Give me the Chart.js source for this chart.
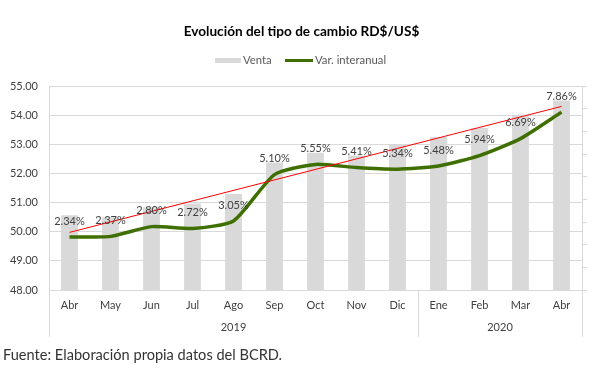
<!DOCTYPE html>
<html lang="es">
<head>
<meta charset="utf-8">
<title>Evolución del tipo de cambio RD$/US$</title>
<script src="https://cdn.jsdelivr.net/npm/chart.js@4.4.1/dist/chart.umd.min.js"></script>
<style>
	body { margin: 0; background: #fff; }
	.wrap { position: relative; width: 603px; height: 376px; }
	#fuente { position: absolute; left: 3px; top: 346px; font: 14.6px Lato, sans-serif; color: #333; white-space: nowrap; }
</style>
</head>
<body>
<div class="wrap">
	<canvas id="chart" width="603" height="376"></canvas>
	<div id="fuente">Fuente: Elaboración propia datos del BCRD.</div>
</div>
<script>
// meses del eje y agrupacion por año
const months = ['Abr', 'May', 'Jun', 'Jul', 'Ago', 'Sep', 'Oct', 'Nov', 'Dic', 'Ene', 'Feb', 'Mar', 'Abr'];
const yearLabels = ['2019', '2020'];
const yearFirst = [0, 9];
const yearLast = [8, 12];

// tasa de venta RD$/US$ (eje izquierdo)
const venta = [50.57, 50.50, 50.84, 50.97, 51.30, 52.38, 52.72, 52.62, 52.98, 53.26, 53.57, 54.02, 54.51];
// variacion interanual en % (eje derecho, 0-9)
const varInteranual = [2.34, 2.37, 2.80, 2.72, 3.05, 5.10, 5.55, 5.41, 5.34, 5.48, 5.94, 6.69, 7.86];
// linea roja de tendencia (solo extremos)
const tendencia = [49.98, null, null, null, null, null, null, null, null, null, null, null, 54.31];

const barColor = '#d9d9d9';
const lineColor = '#3f6f00';
const gridColor = '#d9d9d9';
const textColor = '#404040';

Chart.defaults.font.family = 'Lato, sans-serif';
Chart.defaults.color = textColor;

const pctLabels = {
	id: 'pctLabels',
	afterDatasetsDraw(chart) {
		const ctx = chart.ctx;
		const meta = chart.getDatasetMeta(1);
		ctx.save();
		ctx.font = '11px Lato, sans-serif';
		ctx.fillStyle = textColor;
		ctx.textAlign = 'center';
		ctx.textBaseline = 'middle';
		meta.data.forEach((pt, i) => {
			ctx.fillText(varInteranual[i].toFixed(2) + '%', pt.x, pt.y - 16);
		});
		ctx.restore();
	}
};

const yearAxis = {
	id: 'yearAxis',
	afterDraw(chart) {
		const ctx = chart.ctx;
		const x = chart.scales.x;
		const top = chart.chartArea.bottom;
		ctx.save();
		ctx.strokeStyle = gridColor;
		ctx.lineWidth = 1;
		const edges = [yearFirst[0] - 0.5].concat(yearLast.map((l) => l + 0.5));
		edges.forEach((e) => {
			const px = Math.round(x.getPixelForValue(e)) + 0.5;
			ctx.beginPath();
			ctx.moveTo(px, top);
			ctx.lineTo(px, top + 47);
			ctx.stroke();
		});
		ctx.font = '11px Lato, sans-serif';
		ctx.fillStyle = textColor;
		ctx.textAlign = 'center';
		ctx.textBaseline = 'middle';
		yearLabels.forEach((label, i) => {
			const px = x.getPixelForValue((yearFirst[i] + yearLast[i]) / 2);
			ctx.fillText(label, px, top + 37);
		});
		ctx.restore();
	}
};

const legendBox = {
	id: 'legendBox',
	afterDraw(chart) {
		const ctx = chart.ctx;
		const ds = chart.data.datasets;
		const y = 60.5;
		ctx.save();
		ctx.font = '11.3px Lato, sans-serif';
		ctx.textBaseline = 'middle';
		ctx.textAlign = 'left';
		ctx.fillStyle = ds[0].backgroundColor;
		ctx.fillRect(215, 58, 26, 5);
		ctx.fillStyle = '#595959';
		ctx.fillText(ds[0].label, 243, y);
		ctx.strokeStyle = ds[1].borderColor;
		ctx.lineWidth = 3;
		ctx.beginPath();
		ctx.moveTo(285, y);
		ctx.lineTo(313, y);
		ctx.stroke();
		ctx.fillText(ds[1].label, 315, y);
		ctx.restore();
	}
};

new Chart(document.getElementById('chart'), {
	data: {
		labels: months,
		datasets: [
			{
				type: 'bar',
				label: 'Venta',
				data: venta,
				backgroundColor: barColor,
				barPercentage: 0.41,
				categoryPercentage: 1,
				yAxisID: 'y',
				order: 3,
			},
			{
				type: 'line',
				label: 'Var. interanual',
				data: varInteranual,
				borderColor: lineColor,
				backgroundColor: lineColor,
				borderWidth: 3.5,
				pointRadius: 0,
				tension: 0.2,
				yAxisID: 'y2',
				order: 2,
			},
			{
				type: 'line',
				label: 'Tendencia',
				data: tendencia,
				borderColor: '#ff0000',
				borderWidth: 1,
				pointRadius: 0,
				spanGaps: true,
				yAxisID: 'y',
				order: 1,
			}
		]
	},
	options: {
		responsive: false,
		animation: false,
		layout: { padding: { left: 0, right: 0, top: 0, bottom: 36 } },
		plugins: {
			legend: { display: false },
			tooltip: { enabled: false },
			title: {
				display: true,
				text: 'Evolución del tipo de cambio RD$/US$',
				color: '#000',
				font: { size: 13.6, weight: 'bold' },
				padding: { top: 23, bottom: 47 },
			},
		},
		scales: {
			x: {
				offset: true,
				grid: { display: false, drawTicks: false },
				border: { display: true, color: gridColor },
				ticks: { padding: 9, font: { size: 11 }, color: textColor, maxRotation: 0, autoSkip: false },
				afterFit: (scale) => { scale.height = 50; },
			},
			y: {
				position: 'left',
				min: 48,
				max: 55,
				ticks: { stepSize: 1, padding: 11, font: { size: 11 }, color: textColor, callback: (v) => v.toFixed(2) },
				grid: { color: gridColor, drawTicks: false },
				border: { display: true, color: gridColor },
				afterFit: (scale) => { scale.width = 49; },
			},
			y2: {
				position: 'right',
				min: 0,
				max: 9,
				ticks: { display: false, stepSize: 1 },
				grid: { drawOnChartArea: false, drawTicks: true, tickLength: 5, color: gridColor },
				border: { display: true, color: gridColor },
				afterFit: (scale) => { scale.width = 21; },
			},
		}
	},
	plugins: [pctLabels, yearAxis, legendBox]
});
</script>
</body>
</html>
